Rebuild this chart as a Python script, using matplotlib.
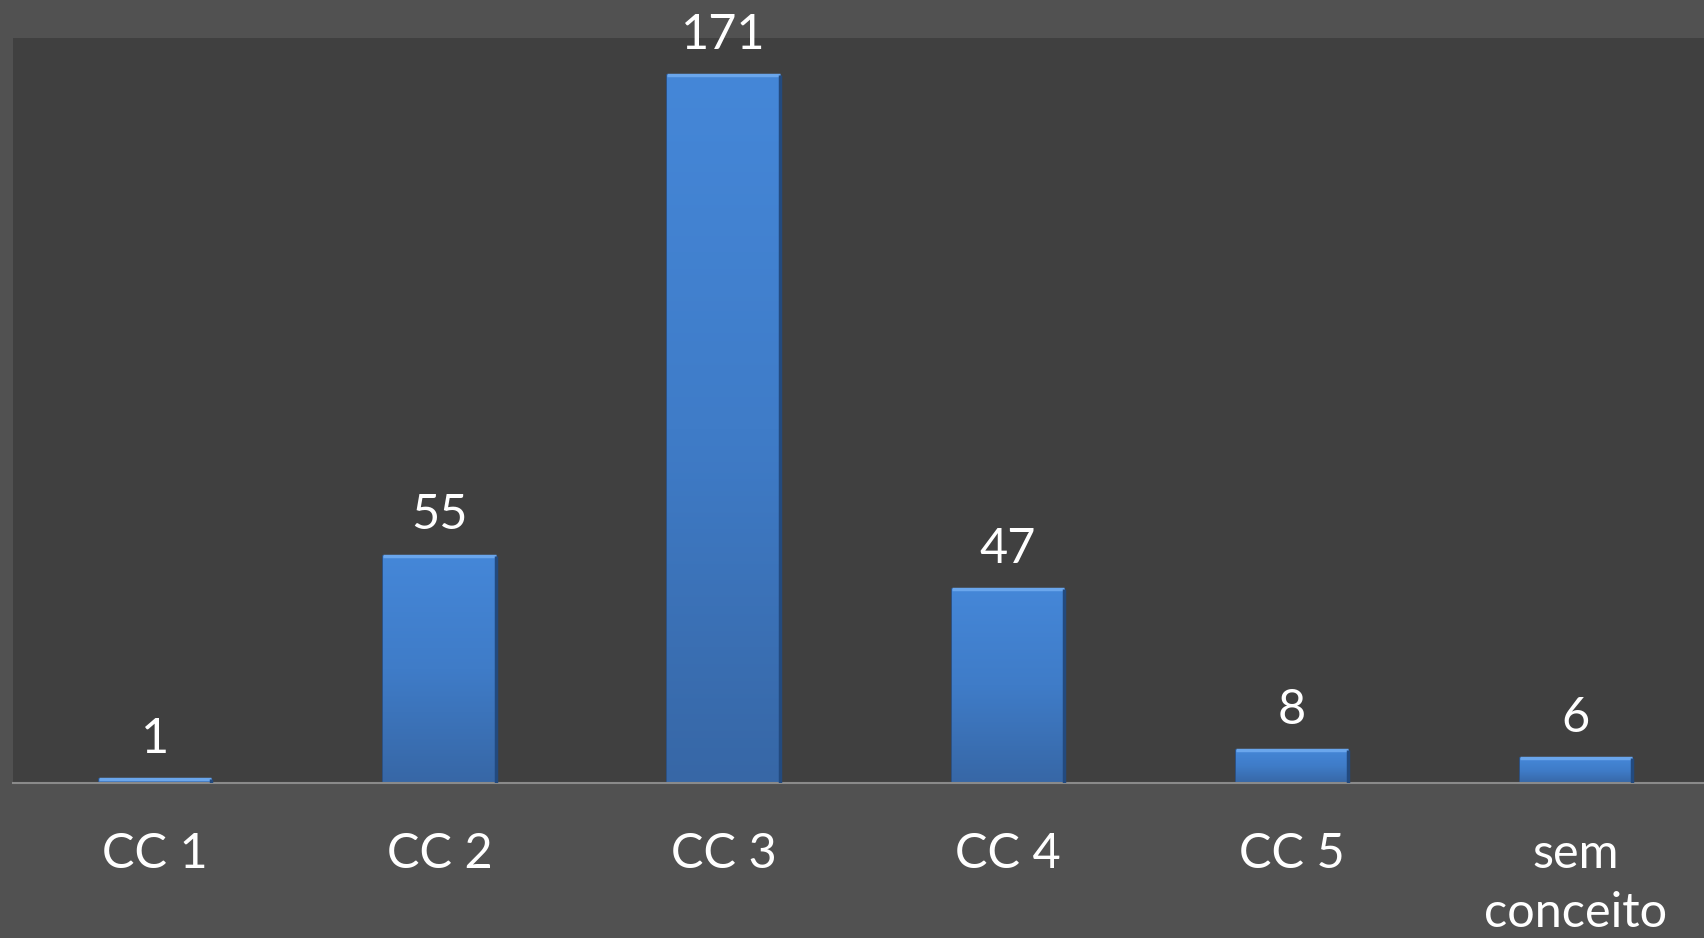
import matplotlib.pyplot as plt
import numpy as np
from matplotlib.colors import LinearSegmentedColormap

categories = ["CC 1", "CC 2", "CC 3", "CC 4", "CC 5", "sem\nconceito"]
values = [1, 55, 171, 47, 8, 6]

plt.rcParams["font.family"] = ["Lato", "DejaVu Sans"]

fig = plt.figure(figsize=(17.04, 9.38), dpi=100)
fig.patch.set_facecolor("#515151")
ax = fig.add_axes([0.0076, 0.165, 0.9924, 0.7945])
ax.set_facecolor("#404040")

x = np.arange(len(categories))
bars = ax.bar(x, values, width=0.395, color="#3F7CC8",
              edgecolor="#2A5590", linewidth=1.2, zorder=2)

# vertical gradient inside each bar (lighter top, darker bottom)
cmap = LinearSegmentedColormap.from_list("bluegrad", ["#3767A6", "#3F7CC8", "#4587D8"])
grad = np.linspace(0, 1, 256).reshape(-1, 1)
for b in bars:
    x0, w, h = b.get_x(), b.get_width(), b.get_height()
    im = ax.imshow(grad, cmap=cmap, origin="lower", aspect="auto",
                   extent=[x0, x0 + w, 0, h], zorder=2.5)
    im.set_clip_path(b)
    # light bevel at the top, darker edge on the right
    ax.plot([x0, x0 + w], [h, h], color="#6AA6EC", linewidth=2.5, zorder=3,
            solid_capstyle="butt")
    ax.plot([x0 + w, x0 + w], [0, h], color="#234A7E", linewidth=2.5, zorder=3,
            solid_capstyle="butt")

for xi, v in zip(x, values):
    ax.annotate(str(v), (xi, v), xytext=(0, 13), textcoords="offset points",
                ha="center", va="bottom", color="white", fontsize=35)

ax.set_xlim(-0.501, 5.451)
ax.set_ylim(0, 180)
ax.set_xticks(x)
ax.set_xticklabels(categories, color="white", fontsize=35, linespacing=1.42)
ax.tick_params(axis="x", length=0, pad=35)
ax.set_yticks([])
for s in ["top", "right", "left"]:
    ax.spines[s].set_visible(False)
ax.spines["bottom"].set_color("#8A8A8A")
ax.spines["bottom"].set_linewidth(1.5)

fig.savefig("out.png", dpi=100, facecolor=fig.get_facecolor())
